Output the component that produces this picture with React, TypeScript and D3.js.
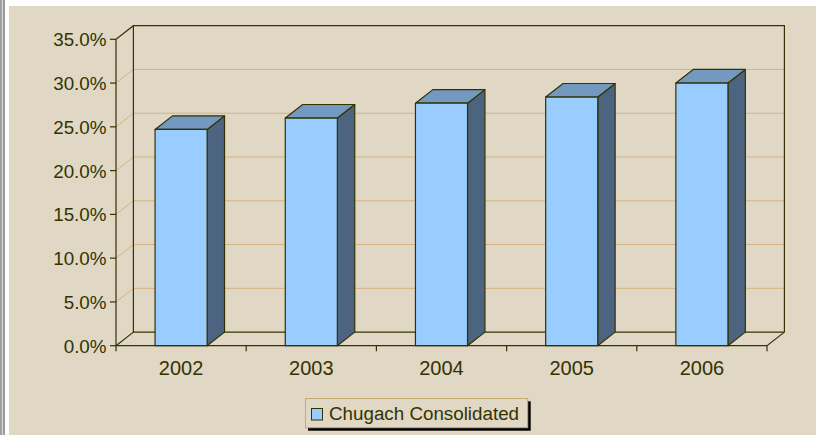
import React from "react";
import * as d3 from "d3";

const years = ["2002", "2003", "2004", "2005", "2006"];
const consolidated = [24.7, 26.0, 27.7, 28.4, 30.0];
const yTicks = [0, 5, 10, 15, 20, 25, 30, 35];
const seriesName = "Chugach Consolidated";

const W = 816;
const H = 435;
const BG = "#E0D8C5";
const INK = "#333300";
const GRID = "#D4B483";
const FRONT = "#99CCFF";
const TOP = "#7399C1";
const SIDE = "#4D6480";

export default function App() {
  const left = 116;
  const right = 767;
  const dx = 17.4;
  const dy = -13.6;
  const y = d3.scaleLinear().domain([0, 35]).range([345.7, 39.3]);
  const cat = d3.scaleBand().domain(years).range([left, right]).padding(0);
  const bar = d3
    .scaleBand()
    .domain(years)
    .range([left, right])
    .paddingInner(0.6)
    .paddingOuter(0.3);
  const fmt = (v: number) => d3.format(".1f")(v) + "%";
  const y0 = y(0);
  const yTop = y(35);
  const bx0 = left + dx;
  const bx1 = right + dx;

  return (
    <svg
      width={W}
      height={H}
      style={{ position: "absolute", left: 0, top: 0, display: "block" }}
      fontFamily="'Liberation Sans', Arial, sans-serif"
    >
      <rect x={0} y={0} width={W} height={H} fill="#ffffff" />
      <rect x={0} y={0} width={2} height={H} fill="#A0A0A0" />
      <rect x={2} y={0} width={1} height={H} fill="#D8D8D8" />
      <rect x={3} y={0} width={2} height={H} fill="#9A9A9A" />
      <rect x={9} y={6} width={W - 9} height={H - 6} fill={BG} />

      {/* gridlines */}
      {yTicks
        .filter((t) => t > 0 && t < 35)
        .map((t) => (
          <path
            key={"g" + t}
            d={`M${left},${y(t)}L${bx0},${y(t) + dy}L${bx1},${y(t) + dy}`}
            fill="none"
            stroke={GRID}
            strokeWidth={1}
          />
        ))}

      {/* walls and floor outlines */}
      <g fill="none" stroke={INK} strokeWidth={1.2}>
        <path d={`M${left},${y0}L${left},${yTop}L${bx0},${yTop + dy}L${bx1},${yTop + dy}L${bx1},${y0 + dy}`} />
        <path d={`M${bx0},${yTop + dy}L${bx0},${y0 + dy}L${bx1},${y0 + dy}`} />
        <path d={`M${left},${y0}L${bx0},${y0 + dy}`} />
        <path d={`M${left},${y0}L${right},${y0}L${bx1},${y0 + dy}`} />
      </g>

      {/* y ticks and labels */}
      {yTicks.map((t) => (
        <g key={"y" + t}>
          <line x1={left - 6} x2={left} y1={y(t)} y2={y(t)} stroke={INK} strokeWidth={1.2} />
          <text
            x={106.5}
            y={y(t) + 7}
            textAnchor="end"
            fontSize={18.8}
            fill={INK}
          >
            {fmt(t)}
          </text>
        </g>
      ))}

      {/* x ticks */}
      {[...years.map((d) => cat(d) as number), right].map((xv, i) => (
        <line key={"xt" + i} x1={xv} x2={xv} y1={y0} y2={y0 + 5.5} stroke={INK} strokeWidth={1.2} />
      ))}
      {years.map((d) => (
        <text
          key={"xl" + d}
          x={(cat(d) as number) + cat.bandwidth() / 2}
          y={375}
          textAnchor="middle"
          fontSize={20}
          fill={INK}
        >
          {d}
        </text>
      ))}

      {/* bars */}
      {years.map((d, i) => {
        const x0 = bar(d) as number;
        const x1 = x0 + bar.bandwidth();
        const yt = y(consolidated[i]);
        return (
          <g key={"b" + d} stroke={INK} strokeWidth={1.2} strokeLinejoin="round">
            <path
              d={`M${x1},${y0}L${x1 + dx},${y0 + dy}L${x1 + dx},${yt + dy}L${x1},${yt}Z`}
              fill={SIDE}
            />
            <path
              d={`M${x0},${yt}L${x0 + dx},${yt + dy}L${x1 + dx},${yt + dy}L${x1},${yt}Z`}
              fill={TOP}
            />
            <rect x={x0} y={yt} width={x1 - x0} height={y0 - yt} fill={FRONT} />
          </g>
        );
      })}

      {/* legend */}
      <rect x={308} y={401.3} width={222.7} height={29.4} fill="#000000" />
      <rect x={305.5} y={398.5} width={222.2} height={29.2} fill={BG} stroke="#C9A96E" strokeWidth={1} />
      <rect x={311.5} y={408.5} width={11} height={11.5} fill={FRONT} stroke={INK} strokeWidth={1} />
      <text x={329} y={420} fontSize={18.8} fill={INK}>
        {seriesName}
      </text>
    </svg>
  );
}
